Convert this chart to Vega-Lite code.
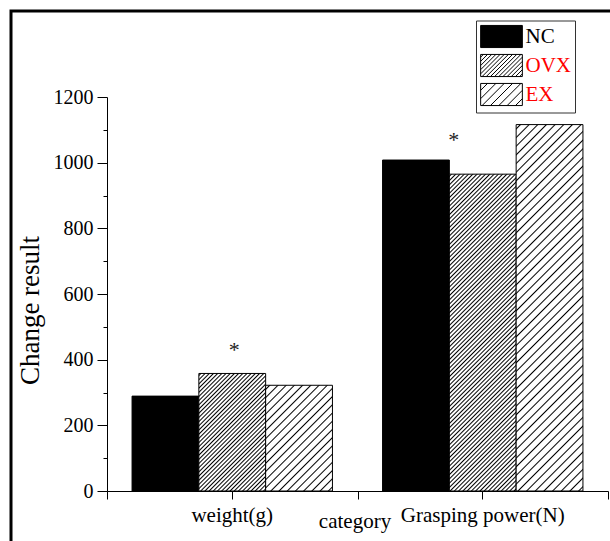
{
  "$schema": "https://vega.github.io/schema/vega-lite/v6.json",
  "usermeta": {"embedOptions": {"actions": false}},
  "width": 603,
  "height": 534,
  "autosize": {"type": "none"},
  "padding": {"left": 11, "top": 11, "right": -4, "bottom": -4},
  "background": "white",
  "config": {"view": {"stroke": "black", "strokeWidth": 3}, "axis": {"grid": false}},
  "datasets": {
    "bars": [
      {"cat": "weight(g)", "group": "NC", "value": 289},
      {"cat": "weight(g)", "group": "OVX", "value": 358},
      {"cat": "weight(g)", "group": "EX", "value": 322},
      {"cat": "Grasping power(N)", "group": "NC", "value": 1008},
      {"cat": "Grasping power(N)", "group": "OVX", "value": 965},
      {"cat": "Grasping power(N)", "group": "EX", "value": 1116}
    ],
    "stars": [
      {"cat": "weight(g)", "group": "OVX", "value": 409, "label": "*"},
      {"cat": "Grasping power(N)", "group": "OVX", "value": 1049, "label": "*"}
    ]
  },
  "layer": [
    {
      "data": {"name": "bars"},
      "mark": {"type": "bar", "stroke": "black", "strokeWidth": 1},
      "encoding": {
        "x": {
          "field": "cat", "type": "nominal", "sort": ["weight(g)", "Grasping power(N)"],
          "scale": {"range": [96, 597], "paddingInner": 0, "paddingOuter": 0},
          "axis": {
            "orient": "bottom", "offset": -54, "tickSize": 8, "tickColor": "black", "domainColor": "black",
            "labelFont": "Liberation Serif", "labelFontSize": 21, "labelColor": "black", "labelPadding": 5, "labelAngle": 0,
            "title": "category", "titleFont": "Liberation Serif", "titleFontSize": 21, "titleFontWeight": "normal",
            "titleColor": "black", "titleX": 343.5, "titleY": 36, "titleBaseline": "alphabetic", "titleAlign": "center"
          }
        },
        "xOffset": {
          "field": "group", "type": "nominal",
          "scale": {"domain": ["NC", "OVX", "EX"], "paddingInner": 0, "paddingOuter": 0.375}
        },
        "y": {
          "field": "value", "type": "quantitative",
          "scale": {"domain": [0, 1200], "range": [480, 86], "nice": false, "zero": true},
          "axis": {
            "orient": "left", "offset": -96, "values": [0, 200, 400, 600, 800, 1000, 1200], "format": "d",
            "tickSize": 10, "tickColor": "black", "domainColor": "black",
            "labelFont": "Liberation Serif", "labelFontSize": 20, "labelColor": "black", "labelPadding": 4,
            "labelFlush": false, "labelOverlap": false,
            "title": "Change result", "titleFont": "Liberation Serif", "titleFontSize": 27, "titleFontWeight": "normal",
            "titleColor": "black", "titleX": -69, "titleY": 299, "titleAngle": -90, "titleBaseline": "alphabetic", "titleAlign": "center"
          }
        },
        "fill": {
          "field": "group", "type": "nominal",
          "scale": {"domain": ["NC", "OVX", "EX"], "range": ["black", "white", "white"]},
          "condition": [
            {"test": "datum.cat === 'weight(g)' && datum.group === 'OVX'", "value": {
              "gradient": "linear", "x1": 0, "y1": 0, "x2": 0.674, "y2": 1.1854,
              "stops": [
                {"offset": 0.0037, "color": "#fff"}, {"offset": 0.0114, "color": "#000"}, {"offset": 0.0191, "color": "#fff"},
                {"offset": 0.0264, "color": "#fff"}, {"offset": 0.0341, "color": "#000"}, {"offset": 0.0418, "color": "#fff"},
                {"offset": 0.0491, "color": "#fff"}, {"offset": 0.0568, "color": "#000"}, {"offset": 0.0645, "color": "#fff"},
                {"offset": 0.0718, "color": "#fff"}, {"offset": 0.0795, "color": "#000"}, {"offset": 0.0872, "color": "#fff"},
                {"offset": 0.0946, "color": "#fff"}, {"offset": 0.1023, "color": "#000"}, {"offset": 0.1100, "color": "#fff"},
                {"offset": 0.1173, "color": "#fff"}, {"offset": 0.1250, "color": "#000"}, {"offset": 0.1327, "color": "#fff"},
                {"offset": 0.1400, "color": "#fff"}, {"offset": 0.1477, "color": "#000"}, {"offset": 0.1554, "color": "#fff"},
                {"offset": 0.1628, "color": "#fff"}, {"offset": 0.1705, "color": "#000"}, {"offset": 0.1782, "color": "#fff"},
                {"offset": 0.1855, "color": "#fff"}, {"offset": 0.1932, "color": "#000"}, {"offset": 0.2009, "color": "#fff"},
                {"offset": 0.2082, "color": "#fff"}, {"offset": 0.2159, "color": "#000"}, {"offset": 0.2236, "color": "#fff"},
                {"offset": 0.2309, "color": "#fff"}, {"offset": 0.2386, "color": "#000"}, {"offset": 0.2463, "color": "#fff"},
                {"offset": 0.2537, "color": "#fff"}, {"offset": 0.2614, "color": "#000"}, {"offset": 0.2691, "color": "#fff"},
                {"offset": 0.2764, "color": "#fff"}, {"offset": 0.2841, "color": "#000"}, {"offset": 0.2918, "color": "#fff"},
                {"offset": 0.2991, "color": "#fff"}, {"offset": 0.3068, "color": "#000"}, {"offset": 0.3145, "color": "#fff"},
                {"offset": 0.3218, "color": "#fff"}, {"offset": 0.3295, "color": "#000"}, {"offset": 0.3372, "color": "#fff"},
                {"offset": 0.3446, "color": "#fff"}, {"offset": 0.3523, "color": "#000"}, {"offset": 0.3600, "color": "#fff"},
                {"offset": 0.3673, "color": "#fff"}, {"offset": 0.3750, "color": "#000"}, {"offset": 0.3827, "color": "#fff"},
                {"offset": 0.3900, "color": "#fff"}, {"offset": 0.3977, "color": "#000"}, {"offset": 0.4054, "color": "#fff"},
                {"offset": 0.4128, "color": "#fff"}, {"offset": 0.4205, "color": "#000"}, {"offset": 0.4282, "color": "#fff"},
                {"offset": 0.4355, "color": "#fff"}, {"offset": 0.4432, "color": "#000"}, {"offset": 0.4509, "color": "#fff"},
                {"offset": 0.4582, "color": "#fff"}, {"offset": 0.4659, "color": "#000"}, {"offset": 0.4736, "color": "#fff"},
                {"offset": 0.4809, "color": "#fff"}, {"offset": 0.4886, "color": "#000"}, {"offset": 0.4963, "color": "#fff"},
                {"offset": 0.5037, "color": "#fff"}, {"offset": 0.5114, "color": "#000"}, {"offset": 0.5191, "color": "#fff"},
                {"offset": 0.5264, "color": "#fff"}, {"offset": 0.5341, "color": "#000"}, {"offset": 0.5418, "color": "#fff"},
                {"offset": 0.5491, "color": "#fff"}, {"offset": 0.5568, "color": "#000"}, {"offset": 0.5645, "color": "#fff"},
                {"offset": 0.5718, "color": "#fff"}, {"offset": 0.5795, "color": "#000"}, {"offset": 0.5872, "color": "#fff"},
                {"offset": 0.5946, "color": "#fff"}, {"offset": 0.6023, "color": "#000"}, {"offset": 0.6100, "color": "#fff"},
                {"offset": 0.6173, "color": "#fff"}, {"offset": 0.6250, "color": "#000"}, {"offset": 0.6327, "color": "#fff"},
                {"offset": 0.6400, "color": "#fff"}, {"offset": 0.6477, "color": "#000"}, {"offset": 0.6554, "color": "#fff"},
                {"offset": 0.6628, "color": "#fff"}, {"offset": 0.6705, "color": "#000"}, {"offset": 0.6782, "color": "#fff"},
                {"offset": 0.6855, "color": "#fff"}, {"offset": 0.6932, "color": "#000"}, {"offset": 0.7009, "color": "#fff"},
                {"offset": 0.7082, "color": "#fff"}, {"offset": 0.7159, "color": "#000"}, {"offset": 0.7236, "color": "#fff"},
                {"offset": 0.7309, "color": "#fff"}, {"offset": 0.7386, "color": "#000"}, {"offset": 0.7463, "color": "#fff"},
                {"offset": 0.7537, "color": "#fff"}, {"offset": 0.7614, "color": "#000"}, {"offset": 0.7691, "color": "#fff"},
                {"offset": 0.7764, "color": "#fff"}, {"offset": 0.7841, "color": "#000"}, {"offset": 0.7918, "color": "#fff"},
                {"offset": 0.7991, "color": "#fff"}, {"offset": 0.8068, "color": "#000"}, {"offset": 0.8145, "color": "#fff"},
                {"offset": 0.8218, "color": "#fff"}, {"offset": 0.8295, "color": "#000"}, {"offset": 0.8372, "color": "#fff"},
                {"offset": 0.8446, "color": "#fff"}, {"offset": 0.8523, "color": "#000"}, {"offset": 0.8600, "color": "#fff"},
                {"offset": 0.8673, "color": "#fff"}, {"offset": 0.8750, "color": "#000"}, {"offset": 0.8827, "color": "#fff"},
                {"offset": 0.8900, "color": "#fff"}, {"offset": 0.8977, "color": "#000"}, {"offset": 0.9054, "color": "#fff"},
                {"offset": 0.9128, "color": "#fff"}, {"offset": 0.9205, "color": "#000"}, {"offset": 0.9282, "color": "#fff"},
                {"offset": 0.9355, "color": "#fff"}, {"offset": 0.9432, "color": "#000"}, {"offset": 0.9509, "color": "#fff"},
                {"offset": 0.9582, "color": "#fff"}, {"offset": 0.9659, "color": "#000"}, {"offset": 0.9736, "color": "#fff"},
                {"offset": 0.9809, "color": "#fff"}, {"offset": 0.9886, "color": "#000"}, {"offset": 0.9963, "color": "#fff"}
              ]
            }},
            {"test": "datum.cat === 'weight(g)' && datum.group === 'EX'", "value": {
              "gradient": "linear", "x1": 0, "y1": 0, "x2": 0.737, "y2": 1.1662,
              "stops": [
                {"offset": 0.0156, "color": "#fff"}, {"offset": 0.0238, "color": "#000"}, {"offset": 0.0320, "color": "#fff"},
                {"offset": 0.0633, "color": "#fff"}, {"offset": 0.0714, "color": "#000"}, {"offset": 0.0796, "color": "#fff"},
                {"offset": 0.1109, "color": "#fff"}, {"offset": 0.1190, "color": "#000"}, {"offset": 0.1272, "color": "#fff"},
                {"offset": 0.1585, "color": "#fff"}, {"offset": 0.1667, "color": "#000"}, {"offset": 0.1748, "color": "#fff"},
                {"offset": 0.2061, "color": "#fff"}, {"offset": 0.2143, "color": "#000"}, {"offset": 0.2225, "color": "#fff"},
                {"offset": 0.2537, "color": "#fff"}, {"offset": 0.2619, "color": "#000"}, {"offset": 0.2701, "color": "#fff"},
                {"offset": 0.3014, "color": "#fff"}, {"offset": 0.3095, "color": "#000"}, {"offset": 0.3177, "color": "#fff"},
                {"offset": 0.3490, "color": "#fff"}, {"offset": 0.3571, "color": "#000"}, {"offset": 0.3653, "color": "#fff"},
                {"offset": 0.3966, "color": "#fff"}, {"offset": 0.4048, "color": "#000"}, {"offset": 0.4129, "color": "#fff"},
                {"offset": 0.4442, "color": "#fff"}, {"offset": 0.4524, "color": "#000"}, {"offset": 0.4606, "color": "#fff"},
                {"offset": 0.4918, "color": "#fff"}, {"offset": 0.5000, "color": "#000"}, {"offset": 0.5082, "color": "#fff"},
                {"offset": 0.5395, "color": "#fff"}, {"offset": 0.5476, "color": "#000"}, {"offset": 0.5558, "color": "#fff"},
                {"offset": 0.5871, "color": "#fff"}, {"offset": 0.5952, "color": "#000"}, {"offset": 0.6034, "color": "#fff"},
                {"offset": 0.6347, "color": "#fff"}, {"offset": 0.6429, "color": "#000"}, {"offset": 0.6510, "color": "#fff"},
                {"offset": 0.6823, "color": "#fff"}, {"offset": 0.6905, "color": "#000"}, {"offset": 0.6987, "color": "#fff"},
                {"offset": 0.7299, "color": "#fff"}, {"offset": 0.7381, "color": "#000"}, {"offset": 0.7463, "color": "#fff"},
                {"offset": 0.7776, "color": "#fff"}, {"offset": 0.7857, "color": "#000"}, {"offset": 0.7939, "color": "#fff"},
                {"offset": 0.8252, "color": "#fff"}, {"offset": 0.8333, "color": "#000"}, {"offset": 0.8415, "color": "#fff"},
                {"offset": 0.8728, "color": "#fff"}, {"offset": 0.8810, "color": "#000"}, {"offset": 0.8891, "color": "#fff"},
                {"offset": 0.9204, "color": "#fff"}, {"offset": 0.9286, "color": "#000"}, {"offset": 0.9367, "color": "#fff"},
                {"offset": 0.9680, "color": "#fff"}, {"offset": 0.9762, "color": "#000"}, {"offset": 0.9844, "color": "#fff"}
              ]
            }},
            {"test": "datum.cat === 'Grasping power(N)' && datum.group === 'OVX'", "value": {
              "gradient": "linear", "x1": 0, "y1": 0, "x2": 0.24445, "y2": 1.15933,
              "stops": [
                {"offset": 0.0019, "color": "#fff"}, {"offset": 0.0056, "color": "#000"}, {"offset": 0.0093, "color": "#fff"},
                {"offset": 0.0130, "color": "#fff"}, {"offset": 0.0167, "color": "#000"}, {"offset": 0.0204, "color": "#fff"},
                {"offset": 0.0241, "color": "#fff"}, {"offset": 0.0278, "color": "#000"}, {"offset": 0.0315, "color": "#fff"},
                {"offset": 0.0352, "color": "#fff"}, {"offset": 0.0389, "color": "#000"}, {"offset": 0.0426, "color": "#fff"},
                {"offset": 0.0463, "color": "#fff"}, {"offset": 0.0500, "color": "#000"}, {"offset": 0.0537, "color": "#fff"},
                {"offset": 0.0574, "color": "#fff"}, {"offset": 0.0611, "color": "#000"}, {"offset": 0.0648, "color": "#fff"},
                {"offset": 0.0685, "color": "#fff"}, {"offset": 0.0722, "color": "#000"}, {"offset": 0.0759, "color": "#fff"},
                {"offset": 0.0796, "color": "#fff"}, {"offset": 0.0833, "color": "#000"}, {"offset": 0.0870, "color": "#fff"},
                {"offset": 0.0907, "color": "#fff"}, {"offset": 0.0944, "color": "#000"}, {"offset": 0.0981, "color": "#fff"},
                {"offset": 0.1019, "color": "#fff"}, {"offset": 0.1056, "color": "#000"}, {"offset": 0.1093, "color": "#fff"},
                {"offset": 0.1130, "color": "#fff"}, {"offset": 0.1167, "color": "#000"}, {"offset": 0.1204, "color": "#fff"},
                {"offset": 0.1241, "color": "#fff"}, {"offset": 0.1278, "color": "#000"}, {"offset": 0.1315, "color": "#fff"},
                {"offset": 0.1352, "color": "#fff"}, {"offset": 0.1389, "color": "#000"}, {"offset": 0.1426, "color": "#fff"},
                {"offset": 0.1463, "color": "#fff"}, {"offset": 0.1500, "color": "#000"}, {"offset": 0.1537, "color": "#fff"},
                {"offset": 0.1574, "color": "#fff"}, {"offset": 0.1611, "color": "#000"}, {"offset": 0.1648, "color": "#fff"},
                {"offset": 0.1685, "color": "#fff"}, {"offset": 0.1722, "color": "#000"}, {"offset": 0.1759, "color": "#fff"},
                {"offset": 0.1796, "color": "#fff"}, {"offset": 0.1833, "color": "#000"}, {"offset": 0.1870, "color": "#fff"},
                {"offset": 0.1907, "color": "#fff"}, {"offset": 0.1944, "color": "#000"}, {"offset": 0.1981, "color": "#fff"},
                {"offset": 0.2019, "color": "#fff"}, {"offset": 0.2056, "color": "#000"}, {"offset": 0.2093, "color": "#fff"},
                {"offset": 0.2130, "color": "#fff"}, {"offset": 0.2167, "color": "#000"}, {"offset": 0.2204, "color": "#fff"},
                {"offset": 0.2241, "color": "#fff"}, {"offset": 0.2278, "color": "#000"}, {"offset": 0.2315, "color": "#fff"},
                {"offset": 0.2352, "color": "#fff"}, {"offset": 0.2389, "color": "#000"}, {"offset": 0.2426, "color": "#fff"},
                {"offset": 0.2463, "color": "#fff"}, {"offset": 0.2500, "color": "#000"}, {"offset": 0.2537, "color": "#fff"},
                {"offset": 0.2574, "color": "#fff"}, {"offset": 0.2611, "color": "#000"}, {"offset": 0.2648, "color": "#fff"},
                {"offset": 0.2685, "color": "#fff"}, {"offset": 0.2722, "color": "#000"}, {"offset": 0.2759, "color": "#fff"},
                {"offset": 0.2796, "color": "#fff"}, {"offset": 0.2833, "color": "#000"}, {"offset": 0.2870, "color": "#fff"},
                {"offset": 0.2907, "color": "#fff"}, {"offset": 0.2944, "color": "#000"}, {"offset": 0.2981, "color": "#fff"},
                {"offset": 0.3019, "color": "#fff"}, {"offset": 0.3056, "color": "#000"}, {"offset": 0.3093, "color": "#fff"},
                {"offset": 0.3130, "color": "#fff"}, {"offset": 0.3167, "color": "#000"}, {"offset": 0.3204, "color": "#fff"},
                {"offset": 0.3241, "color": "#fff"}, {"offset": 0.3278, "color": "#000"}, {"offset": 0.3315, "color": "#fff"},
                {"offset": 0.3352, "color": "#fff"}, {"offset": 0.3389, "color": "#000"}, {"offset": 0.3426, "color": "#fff"},
                {"offset": 0.3463, "color": "#fff"}, {"offset": 0.3500, "color": "#000"}, {"offset": 0.3537, "color": "#fff"},
                {"offset": 0.3574, "color": "#fff"}, {"offset": 0.3611, "color": "#000"}, {"offset": 0.3648, "color": "#fff"},
                {"offset": 0.3685, "color": "#fff"}, {"offset": 0.3722, "color": "#000"}, {"offset": 0.3759, "color": "#fff"},
                {"offset": 0.3796, "color": "#fff"}, {"offset": 0.3833, "color": "#000"}, {"offset": 0.3870, "color": "#fff"},
                {"offset": 0.3907, "color": "#fff"}, {"offset": 0.3944, "color": "#000"}, {"offset": 0.3981, "color": "#fff"},
                {"offset": 0.4019, "color": "#fff"}, {"offset": 0.4056, "color": "#000"}, {"offset": 0.4093, "color": "#fff"},
                {"offset": 0.4130, "color": "#fff"}, {"offset": 0.4167, "color": "#000"}, {"offset": 0.4204, "color": "#fff"},
                {"offset": 0.4241, "color": "#fff"}, {"offset": 0.4278, "color": "#000"}, {"offset": 0.4315, "color": "#fff"},
                {"offset": 0.4352, "color": "#fff"}, {"offset": 0.4389, "color": "#000"}, {"offset": 0.4426, "color": "#fff"},
                {"offset": 0.4463, "color": "#fff"}, {"offset": 0.4500, "color": "#000"}, {"offset": 0.4537, "color": "#fff"},
                {"offset": 0.4574, "color": "#fff"}, {"offset": 0.4611, "color": "#000"}, {"offset": 0.4648, "color": "#fff"},
                {"offset": 0.4685, "color": "#fff"}, {"offset": 0.4722, "color": "#000"}, {"offset": 0.4759, "color": "#fff"},
                {"offset": 0.4796, "color": "#fff"}, {"offset": 0.4833, "color": "#000"}, {"offset": 0.4870, "color": "#fff"},
                {"offset": 0.4907, "color": "#fff"}, {"offset": 0.4944, "color": "#000"}, {"offset": 0.4981, "color": "#fff"},
                {"offset": 0.5019, "color": "#fff"}, {"offset": 0.5056, "color": "#000"}, {"offset": 0.5093, "color": "#fff"},
                {"offset": 0.5130, "color": "#fff"}, {"offset": 0.5167, "color": "#000"}, {"offset": 0.5204, "color": "#fff"},
                {"offset": 0.5241, "color": "#fff"}, {"offset": 0.5278, "color": "#000"}, {"offset": 0.5315, "color": "#fff"},
                {"offset": 0.5352, "color": "#fff"}, {"offset": 0.5389, "color": "#000"}, {"offset": 0.5426, "color": "#fff"},
                {"offset": 0.5463, "color": "#fff"}, {"offset": 0.5500, "color": "#000"}, {"offset": 0.5537, "color": "#fff"},
                {"offset": 0.5574, "color": "#fff"}, {"offset": 0.5611, "color": "#000"}, {"offset": 0.5648, "color": "#fff"},
                {"offset": 0.5685, "color": "#fff"}, {"offset": 0.5722, "color": "#000"}, {"offset": 0.5759, "color": "#fff"},
                {"offset": 0.5796, "color": "#fff"}, {"offset": 0.5833, "color": "#000"}, {"offset": 0.5870, "color": "#fff"},
                {"offset": 0.5907, "color": "#fff"}, {"offset": 0.5944, "color": "#000"}, {"offset": 0.5981, "color": "#fff"},
                {"offset": 0.6019, "color": "#fff"}, {"offset": 0.6056, "color": "#000"}, {"offset": 0.6093, "color": "#fff"},
                {"offset": 0.6130, "color": "#fff"}, {"offset": 0.6167, "color": "#000"}, {"offset": 0.6204, "color": "#fff"},
                {"offset": 0.6241, "color": "#fff"}, {"offset": 0.6278, "color": "#000"}, {"offset": 0.6315, "color": "#fff"},
                {"offset": 0.6352, "color": "#fff"}, {"offset": 0.6389, "color": "#000"}, {"offset": 0.6426, "color": "#fff"},
                {"offset": 0.6463, "color": "#fff"}, {"offset": 0.6500, "color": "#000"}, {"offset": 0.6537, "color": "#fff"},
                {"offset": 0.6574, "color": "#fff"}, {"offset": 0.6611, "color": "#000"}, {"offset": 0.6648, "color": "#fff"},
                {"offset": 0.6685, "color": "#fff"}, {"offset": 0.6722, "color": "#000"}, {"offset": 0.6759, "color": "#fff"},
                {"offset": 0.6796, "color": "#fff"}, {"offset": 0.6833, "color": "#000"}, {"offset": 0.6870, "color": "#fff"},
                {"offset": 0.6907, "color": "#fff"}, {"offset": 0.6944, "color": "#000"}, {"offset": 0.6981, "color": "#fff"},
                {"offset": 0.7019, "color": "#fff"}, {"offset": 0.7056, "color": "#000"}, {"offset": 0.7093, "color": "#fff"},
                {"offset": 0.7130, "color": "#fff"}, {"offset": 0.7167, "color": "#000"}, {"offset": 0.7204, "color": "#fff"},
                {"offset": 0.7241, "color": "#fff"}, {"offset": 0.7278, "color": "#000"}, {"offset": 0.7315, "color": "#fff"},
                {"offset": 0.7352, "color": "#fff"}, {"offset": 0.7389, "color": "#000"}, {"offset": 0.7426, "color": "#fff"},
                {"offset": 0.7463, "color": "#fff"}, {"offset": 0.7500, "color": "#000"}, {"offset": 0.7537, "color": "#fff"},
                {"offset": 0.7574, "color": "#fff"}, {"offset": 0.7611, "color": "#000"}, {"offset": 0.7648, "color": "#fff"},
                {"offset": 0.7685, "color": "#fff"}, {"offset": 0.7722, "color": "#000"}, {"offset": 0.7759, "color": "#fff"},
                {"offset": 0.7796, "color": "#fff"}, {"offset": 0.7833, "color": "#000"}, {"offset": 0.7870, "color": "#fff"},
                {"offset": 0.7907, "color": "#fff"}, {"offset": 0.7944, "color": "#000"}, {"offset": 0.7981, "color": "#fff"},
                {"offset": 0.8019, "color": "#fff"}, {"offset": 0.8056, "color": "#000"}, {"offset": 0.8093, "color": "#fff"},
                {"offset": 0.8130, "color": "#fff"}, {"offset": 0.8167, "color": "#000"}, {"offset": 0.8204, "color": "#fff"},
                {"offset": 0.8241, "color": "#fff"}, {"offset": 0.8278, "color": "#000"}, {"offset": 0.8315, "color": "#fff"},
                {"offset": 0.8352, "color": "#fff"}, {"offset": 0.8389, "color": "#000"}, {"offset": 0.8426, "color": "#fff"},
                {"offset": 0.8463, "color": "#fff"}, {"offset": 0.8500, "color": "#000"}, {"offset": 0.8537, "color": "#fff"},
                {"offset": 0.8574, "color": "#fff"}, {"offset": 0.8611, "color": "#000"}, {"offset": 0.8648, "color": "#fff"},
                {"offset": 0.8685, "color": "#fff"}, {"offset": 0.8722, "color": "#000"}, {"offset": 0.8759, "color": "#fff"},
                {"offset": 0.8796, "color": "#fff"}, {"offset": 0.8833, "color": "#000"}, {"offset": 0.8870, "color": "#fff"},
                {"offset": 0.8907, "color": "#fff"}, {"offset": 0.8944, "color": "#000"}, {"offset": 0.8981, "color": "#fff"},
                {"offset": 0.9019, "color": "#fff"}, {"offset": 0.9056, "color": "#000"}, {"offset": 0.9093, "color": "#fff"},
                {"offset": 0.9130, "color": "#fff"}, {"offset": 0.9167, "color": "#000"}, {"offset": 0.9204, "color": "#fff"},
                {"offset": 0.9241, "color": "#fff"}, {"offset": 0.9278, "color": "#000"}, {"offset": 0.9315, "color": "#fff"},
                {"offset": 0.9352, "color": "#fff"}, {"offset": 0.9389, "color": "#000"}, {"offset": 0.9426, "color": "#fff"},
                {"offset": 0.9463, "color": "#fff"}, {"offset": 0.9500, "color": "#000"}, {"offset": 0.9537, "color": "#fff"},
                {"offset": 0.9574, "color": "#fff"}, {"offset": 0.9611, "color": "#000"}, {"offset": 0.9648, "color": "#fff"},
                {"offset": 0.9685, "color": "#fff"}, {"offset": 0.9722, "color": "#000"}, {"offset": 0.9759, "color": "#fff"},
                {"offset": 0.9796, "color": "#fff"}, {"offset": 0.9833, "color": "#000"}, {"offset": 0.9870, "color": "#fff"},
                {"offset": 0.9907, "color": "#fff"}, {"offset": 0.9944, "color": "#000"}, {"offset": 0.9981, "color": "#fff"}
              ]
            }},
            {"test": "datum.cat === 'Grasping power(N)' && datum.group === 'EX'", "value": {
              "gradient": "linear", "x1": 0, "y1": 0, "x2": 0.20862, "y2": 1.14427,
              "stops": [
                {"offset": 0.0067, "color": "#fff"}, {"offset": 0.01, "color": "#000"}, {"offset": 0.0133, "color": "#fff"},
                {"offset": 0.0267, "color": "#fff"}, {"offset": 0.03, "color": "#000"}, {"offset": 0.0333, "color": "#fff"},
                {"offset": 0.0467, "color": "#fff"}, {"offset": 0.05, "color": "#000"}, {"offset": 0.0533, "color": "#fff"},
                {"offset": 0.0667, "color": "#fff"}, {"offset": 0.07, "color": "#000"}, {"offset": 0.0733, "color": "#fff"},
                {"offset": 0.0867, "color": "#fff"}, {"offset": 0.09, "color": "#000"}, {"offset": 0.0933, "color": "#fff"},
                {"offset": 0.1067, "color": "#fff"}, {"offset": 0.11, "color": "#000"}, {"offset": 0.1133, "color": "#fff"},
                {"offset": 0.1267, "color": "#fff"}, {"offset": 0.13, "color": "#000"}, {"offset": 0.1333, "color": "#fff"},
                {"offset": 0.1467, "color": "#fff"}, {"offset": 0.15, "color": "#000"}, {"offset": 0.1533, "color": "#fff"},
                {"offset": 0.1667, "color": "#fff"}, {"offset": 0.17, "color": "#000"}, {"offset": 0.1733, "color": "#fff"},
                {"offset": 0.1867, "color": "#fff"}, {"offset": 0.19, "color": "#000"}, {"offset": 0.1933, "color": "#fff"},
                {"offset": 0.2067, "color": "#fff"}, {"offset": 0.21, "color": "#000"}, {"offset": 0.2133, "color": "#fff"},
                {"offset": 0.2267, "color": "#fff"}, {"offset": 0.23, "color": "#000"}, {"offset": 0.2333, "color": "#fff"},
                {"offset": 0.2467, "color": "#fff"}, {"offset": 0.25, "color": "#000"}, {"offset": 0.2533, "color": "#fff"},
                {"offset": 0.2667, "color": "#fff"}, {"offset": 0.27, "color": "#000"}, {"offset": 0.2733, "color": "#fff"},
                {"offset": 0.2867, "color": "#fff"}, {"offset": 0.29, "color": "#000"}, {"offset": 0.2933, "color": "#fff"},
                {"offset": 0.3067, "color": "#fff"}, {"offset": 0.31, "color": "#000"}, {"offset": 0.3133, "color": "#fff"},
                {"offset": 0.3267, "color": "#fff"}, {"offset": 0.33, "color": "#000"}, {"offset": 0.3333, "color": "#fff"},
                {"offset": 0.3467, "color": "#fff"}, {"offset": 0.35, "color": "#000"}, {"offset": 0.3533, "color": "#fff"},
                {"offset": 0.3667, "color": "#fff"}, {"offset": 0.37, "color": "#000"}, {"offset": 0.3733, "color": "#fff"},
                {"offset": 0.3867, "color": "#fff"}, {"offset": 0.39, "color": "#000"}, {"offset": 0.3933, "color": "#fff"},
                {"offset": 0.4067, "color": "#fff"}, {"offset": 0.41, "color": "#000"}, {"offset": 0.4133, "color": "#fff"},
                {"offset": 0.4267, "color": "#fff"}, {"offset": 0.43, "color": "#000"}, {"offset": 0.4333, "color": "#fff"},
                {"offset": 0.4467, "color": "#fff"}, {"offset": 0.45, "color": "#000"}, {"offset": 0.4533, "color": "#fff"},
                {"offset": 0.4667, "color": "#fff"}, {"offset": 0.47, "color": "#000"}, {"offset": 0.4733, "color": "#fff"},
                {"offset": 0.4867, "color": "#fff"}, {"offset": 0.49, "color": "#000"}, {"offset": 0.4933, "color": "#fff"},
                {"offset": 0.5067, "color": "#fff"}, {"offset": 0.51, "color": "#000"}, {"offset": 0.5133, "color": "#fff"},
                {"offset": 0.5267, "color": "#fff"}, {"offset": 0.53, "color": "#000"}, {"offset": 0.5333, "color": "#fff"},
                {"offset": 0.5467, "color": "#fff"}, {"offset": 0.55, "color": "#000"}, {"offset": 0.5533, "color": "#fff"},
                {"offset": 0.5667, "color": "#fff"}, {"offset": 0.57, "color": "#000"}, {"offset": 0.5733, "color": "#fff"},
                {"offset": 0.5867, "color": "#fff"}, {"offset": 0.59, "color": "#000"}, {"offset": 0.5933, "color": "#fff"},
                {"offset": 0.6067, "color": "#fff"}, {"offset": 0.61, "color": "#000"}, {"offset": 0.6133, "color": "#fff"},
                {"offset": 0.6267, "color": "#fff"}, {"offset": 0.63, "color": "#000"}, {"offset": 0.6333, "color": "#fff"},
                {"offset": 0.6467, "color": "#fff"}, {"offset": 0.65, "color": "#000"}, {"offset": 0.6533, "color": "#fff"},
                {"offset": 0.6667, "color": "#fff"}, {"offset": 0.67, "color": "#000"}, {"offset": 0.6733, "color": "#fff"},
                {"offset": 0.6867, "color": "#fff"}, {"offset": 0.69, "color": "#000"}, {"offset": 0.6933, "color": "#fff"},
                {"offset": 0.7067, "color": "#fff"}, {"offset": 0.71, "color": "#000"}, {"offset": 0.7133, "color": "#fff"},
                {"offset": 0.7267, "color": "#fff"}, {"offset": 0.73, "color": "#000"}, {"offset": 0.7333, "color": "#fff"},
                {"offset": 0.7467, "color": "#fff"}, {"offset": 0.75, "color": "#000"}, {"offset": 0.7533, "color": "#fff"},
                {"offset": 0.7667, "color": "#fff"}, {"offset": 0.77, "color": "#000"}, {"offset": 0.7733, "color": "#fff"},
                {"offset": 0.7867, "color": "#fff"}, {"offset": 0.79, "color": "#000"}, {"offset": 0.7933, "color": "#fff"},
                {"offset": 0.8067, "color": "#fff"}, {"offset": 0.81, "color": "#000"}, {"offset": 0.8133, "color": "#fff"},
                {"offset": 0.8267, "color": "#fff"}, {"offset": 0.83, "color": "#000"}, {"offset": 0.8333, "color": "#fff"},
                {"offset": 0.8467, "color": "#fff"}, {"offset": 0.85, "color": "#000"}, {"offset": 0.8533, "color": "#fff"},
                {"offset": 0.8667, "color": "#fff"}, {"offset": 0.87, "color": "#000"}, {"offset": 0.8733, "color": "#fff"},
                {"offset": 0.8867, "color": "#fff"}, {"offset": 0.89, "color": "#000"}, {"offset": 0.8933, "color": "#fff"},
                {"offset": 0.9067, "color": "#fff"}, {"offset": 0.91, "color": "#000"}, {"offset": 0.9133, "color": "#fff"},
                {"offset": 0.9267, "color": "#fff"}, {"offset": 0.93, "color": "#000"}, {"offset": 0.9333, "color": "#fff"},
                {"offset": 0.9467, "color": "#fff"}, {"offset": 0.95, "color": "#000"}, {"offset": 0.9533, "color": "#fff"},
                {"offset": 0.9667, "color": "#fff"}, {"offset": 0.97, "color": "#000"}, {"offset": 0.9733, "color": "#fff"},
                {"offset": 0.9867, "color": "#fff"}, {"offset": 0.99, "color": "#000"}, {"offset": 0.9933, "color": "#fff"}
              ]
            }}
          ],
          "legend": {
            "orient": "none", "legendX": 465, "legendY": 9.5, "title": null,
            "strokeColor": "#333", "fillColor": "white", "padding": 4,
            "symbolSize": 529, "symbolOffset": 9.5, "symbolStrokeWidth": 1, "symbolStrokeColor": "black", "symbolOpacity": 1,
            "labelFont": "Liberation Serif", "labelFontSize": 21, "labelOffset": 12, "rowPadding": 1, "labelLimit": 300,
            "encode": {
              "symbols": {"update": {
                "shape": {"signal": "datum.value === 'OVX' ? 'M-1.813,-0.961H1.813V0.961H-1.813Z M-1.813,-0.725L-1.577,-0.961 M-1.813,-0.363L-1.215,-0.961 M-1.813,0L-0.852,-0.961 M-1.813,0.363L-0.49,-0.961 M-1.813,0.725L-0.127,-0.961 M-1.686,0.961L0.236,-0.961 M-1.323,0.961L0.598,-0.961 M-0.961,0.961L0.961,-0.961 M-0.598,0.961L1.323,-0.961 M-0.236,0.961L1.686,-0.961 M0.127,0.961L1.813,-0.725 M0.49,0.961L1.813,-0.363 M0.852,0.961L1.813,0 M1.215,0.961L1.813,0.363 M1.577,0.961L1.813,0.725' : datum.value === 'EX' ? 'M-1.813,-0.961H1.813V0.961H-1.813Z M-1.813,-0.363L-1.215,-0.961 M-1.813,0.363L-0.49,-0.961 M-1.686,0.961L0.236,-0.961 M-0.961,0.961L0.961,-0.961 M-0.236,0.961L1.686,-0.961 M0.49,0.961L1.813,-0.363 M1.215,0.961L1.813,0.363' : 'M-1.813,-0.961H1.813V0.961H-1.813Z'"},
                "stroke": {"value": "black"}
              }},
              "labels": {"update": {"fill": {"signal": "datum.value === 'NC' ? 'black' : 'red'"}}}
            }
          }
        }
      }
    },
    {
      "data": {"name": "stars"},
      "mark": {"type": "text", "font": "Liberation Serif", "fontSize": 22, "color": "#222", "baseline": "alphabetic", "align": "center",
               "dx": {"expr": "datum.cat === 'weight(g)' ? 2 : -29"}},
      "encoding": {
        "x": {
          "field": "cat", "type": "nominal", "sort": ["weight(g)", "Grasping power(N)"],
          "scale": {"range": [96, 597], "paddingInner": 0, "paddingOuter": 0},
          "axis": {"orient": "bottom", "offset": -54, "tickBand": "extent", "tickSize": 8, "tickColor": "black",
                   "labels": false, "domain": false, "title": null}
        },
        "xOffset": {
          "field": "group", "type": "nominal",
          "scale": {"domain": ["NC", "OVX", "EX"], "paddingInner": 0, "paddingOuter": 0.375}
        },
        "y": {
          "field": "value", "type": "quantitative",
          "scale": {"domain": [0, 1200], "range": [480, 86], "nice": false, "zero": true},
          "axis": {"orient": "left", "offset": -96, "values": [100, 300, 500, 700, 900, 1100], "tickSize": 4,
                   "tickColor": "black", "labels": false, "domain": false, "title": null}
        },
        "text": {"field": "label", "type": "nominal"}
      }
    }
  ],
  "resolve": {"axis": {"x": "independent", "y": "independent"}}
}
